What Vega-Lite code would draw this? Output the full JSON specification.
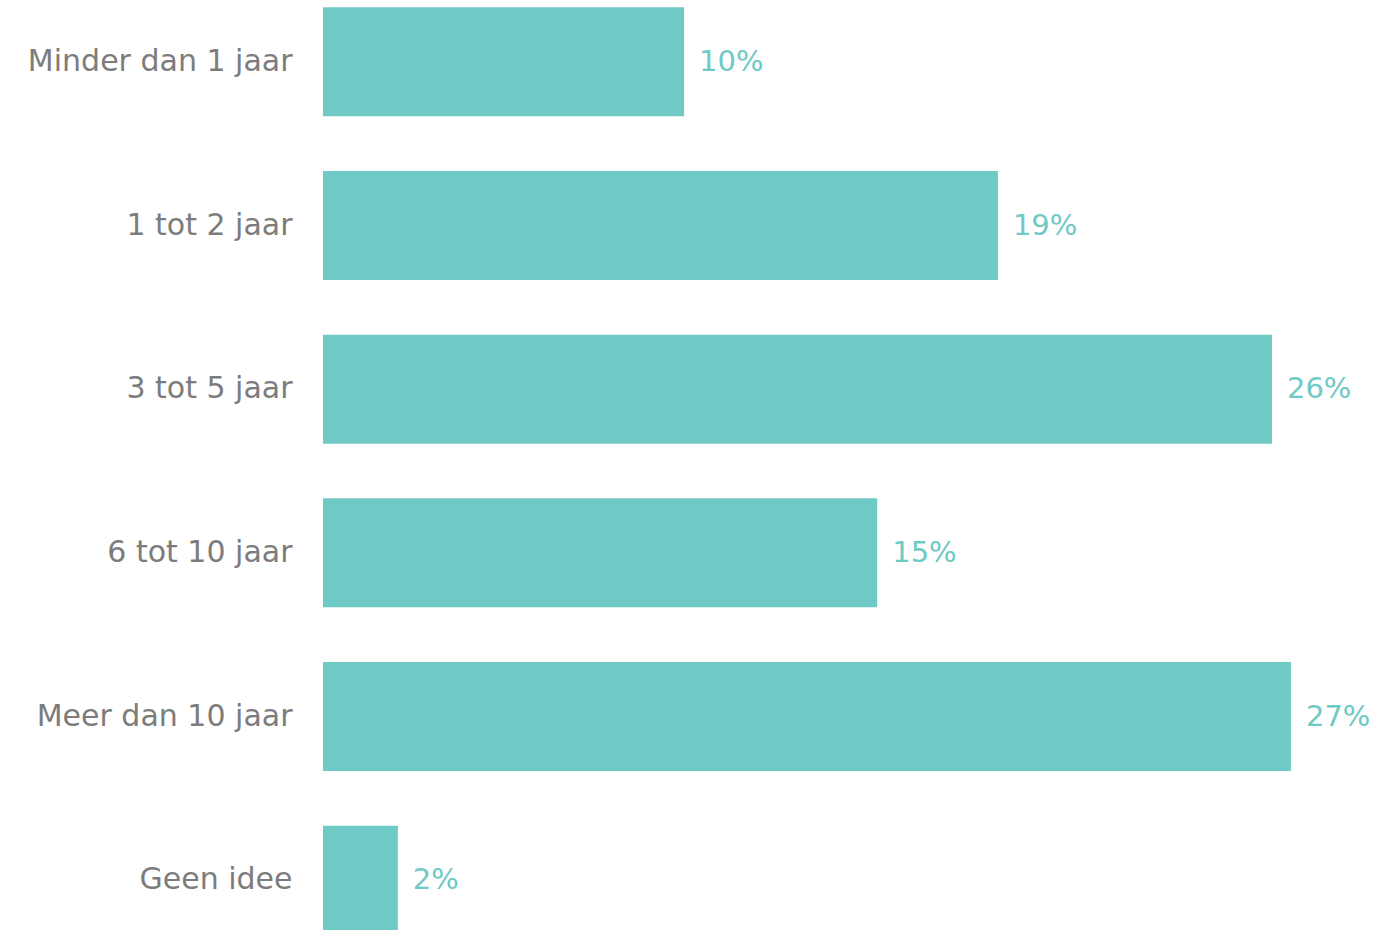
{
  "$schema": "https://vega.github.io/schema/vega-lite/v6.json",
  "autosize": {"type": "none"},
  "width": 1055,
  "height": 982,
  "padding": {"left": 323, "top": -20, "right": 0, "bottom": -32},
  "background": "white",
  "config": {"view": {"stroke": null}},
  "data": {
    "values": [
      {"categorie": "Minder dan 1 jaar", "waarde": 10.08, "label": "10%"},
      {"categorie": "1 tot 2 jaar", "waarde": 18.84, "label": "19%"},
      {"categorie": "3 tot 5 jaar", "waarde": 26.49, "label": "26%"},
      {"categorie": "6 tot 10 jaar", "waarde": 15.47, "label": "15%"},
      {"categorie": "Meer dan 10 jaar", "waarde": 27.02, "label": "27%"},
      {"categorie": "Geen idee", "waarde": 2.09, "label": "2%"}
    ]
  },
  "encoding": {
    "y": {
      "field": "categorie",
      "type": "nominal",
      "sort": null,
      "scale": {"paddingInner": 0.334, "paddingOuter": 0.167},
      "axis": {
        "title": null,
        "domain": false,
        "ticks": false,
        "labelPadding": 31,
        "labelFont": "DejaVu Sans",
        "labelFontSize": 30,
        "labelColor": "#7c7c7c",
        "labelLimit": 400
      }
    },
    "x": {
      "field": "waarde",
      "type": "quantitative",
      "scale": {"domain": [0, 29.45], "nice": false},
      "axis": null
    }
  },
  "layer": [
    {"mark": {"type": "bar", "color": "#6fc9c4"}},
    {
      "mark": {"type": "text", "align": "left", "baseline": "middle", "dx": 15, "font": "DejaVu Sans", "fontSize": 29, "color": "#6fc9c4"},
      "encoding": {"text": {"field": "label"}}
    }
  ]
}
